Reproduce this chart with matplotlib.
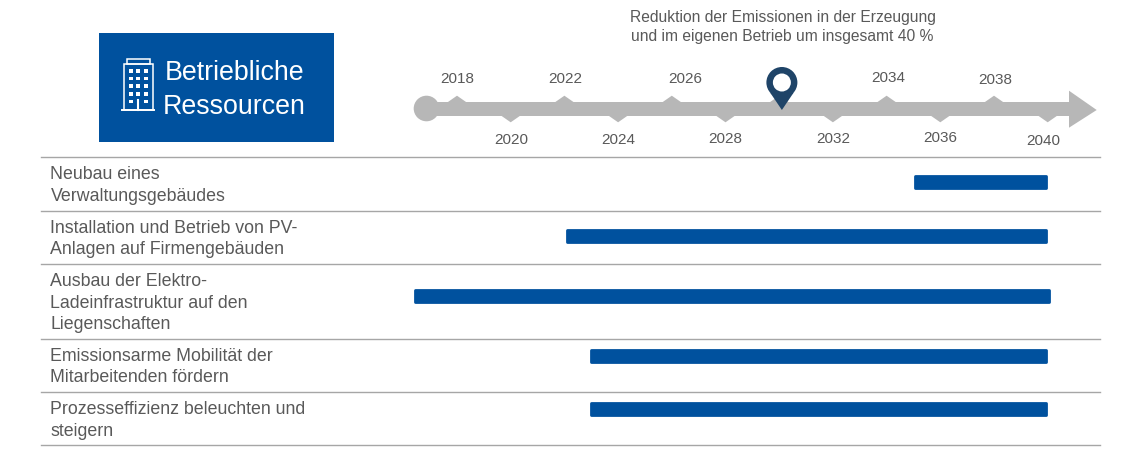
#!/usr/bin/env python3
"""Timeline of operational resource measures up to 2040."""

import matplotlib

matplotlib.use("Agg")

import matplotlib.pyplot as plt
from matplotlib.patches import Circle, Polygon, Rectangle

plt.rcParams["font.family"] = ["Liberation Sans", "DejaVu Sans"]

WIDTH, HEIGHT = 1140, 454
BLUE = "#00519e"
GREY = "#b7b7b7"
TEXT = "#595959"
PIN = "#1f4468"

TOP_YEARS = [2018, 2022, 2026, 2030, 2034, 2038]
BOTTOM_YEARS = [2020, 2024, 2028, 2032, 2036, 2040]
# the labels sit slightly off their ticks in the original (px)
TOP_LABELS = {2018: (0, 79), 2022: (1, 79), 2026: (13, 79), 2034: (2, 78.5), 2038: (1, 79.5)}
BOTTOM_LABELS = {2020: (1, 139.5), 2024: (0, 139.5), 2028: (0, 139), 2032: (0, 139), 2036: (0, 138), 2040: (-4, 141)}
PIN_YEAR = 2030.1

MEASURES = [
    "Neubau eines\nVerwaltungsgebäudes",
    "Installation und Betrieb von PV-\nAnlagen auf Firmengebäuden",
    "Ausbau der Elektro-\nLadeinfrastruktur auf den\nLiegenschaften",
    "Emissionsarme Mobilität der\nMitarbeitenden fördern",
    "Prozesseffizienz beleuchten und\nsteigern",
]
BAR_START = [2035.07, 2022.1, 2016.45, 2023.0, 2023.0]
BAR_END = [2039.95, 2039.95, 2040.05, 2039.95, 2039.95]

ROW_Y = [181.5, 236.3, 296, 355.5, 409.2]
TEXT_Y = [185.5, 239, 303, 367, 420.5]
RULES_Y = [157.3, 210.7, 264, 338.7, 392, 445.3]

PX_2018 = 457.0
PX_PER_YEAR = 26.85

fig = plt.figure(figsize=(WIDTH / 100, HEIGHT / 100), dpi=100)

# pixel axes for layout, twin axes in years for everything on the time scale
ax = fig.add_axes([0, 0, 1, 1])
ax.set_xlim(0, WIDTH)
ax.set_ylim(HEIGHT, 0)
ax.axis("off")

ax_years = ax.twiny()
ax_years.set_xlim(2018 - PX_2018 / PX_PER_YEAR, 2018 + (WIDTH - PX_2018) / PX_PER_YEAR)
ax_years.set_ylim(HEIGHT, 0)
ax_years.axis("off")

# header box
ax.add_patch(Rectangle((99, 32.5), 234.5, 109, facecolor=BLUE, edgecolor="none"))
ax.text(234.5, 73.5, "Betriebliche", color="white", fontsize=19.3, ha="center", va="center")
ax.text(234.5, 107, "Ressourcen", color="white", fontsize=19.3, ha="center", va="center")

# building icon
ax.add_patch(Rectangle((123.5, 63.5), 29, 46, fill=False, edgecolor="white", linewidth=1.1))
ax.add_patch(Rectangle((126.7, 58.5), 23.3, 5, fill=False, edgecolor="white", linewidth=1.1))
ax.plot([122, 153.5], [110, 110], color="white", linewidth=1.4)
for wx in (130.7, 138, 146):
    for wy in (71, 78.5, 86, 94, 101.5):
        if wx == 138 and wy == 101.5:
            continue
        ax.add_patch(Rectangle((wx - 1.9, wy - 1.9), 3.8, 3.8, facecolor="white", edgecolor="none"))
ax.plot([138, 138], [100, 110], color="white", linewidth=1.5)

# arrow timeline
ax.add_patch(Rectangle((426, 102.3), 645, 13.4, facecolor=GREY, edgecolor="none"))
ax.add_patch(Circle((426.5, 108.5), 12.8, facecolor=GREY, edgecolor="none"))
ax.add_patch(Polygon([(1069, 90.7), (1096.7, 110), (1069, 127.7)], facecolor=GREY, edgecolor="none"))

tick_half = 10.5 / PX_PER_YEAR
for year in TOP_YEARS:
    ax_years.add_patch(Polygon([(year - tick_half, 103), (year, 95.7), (year + tick_half, 103)],
                               facecolor=GREY, edgecolor="none"))
for year in BOTTOM_YEARS:
    ax_years.add_patch(Polygon([(year - tick_half, 115), (year, 122.3), (year + tick_half, 115)],
                               facecolor=GREY, edgecolor="none"))
for labels in (TOP_LABELS, BOTTOM_LABELS):
    for year, (shift, y) in labels.items():
        ax_years.text(year + shift / PX_PER_YEAR, y, str(year), color=TEXT, fontsize=11, ha="center", va="center")

# caption
ax.text(782.5, 27, "Reduktion der Emissionen in der Erzeugung\nund im eigenen Betrieb um insgesamt 40 %",
        color=TEXT, fontsize=11.25, ha="center", va="center", linespacing=1.3)

# location pin
pin_half = 11.5 / PX_PER_YEAR
ax_years.add_patch(Polygon([(PIN_YEAR - pin_half, 93), (PIN_YEAR, 110), (PIN_YEAR + pin_half, 93)],
                           facecolor=PIN, edgecolor="none", zorder=4))
pin_px = PX_2018 + (PIN_YEAR - 2018) * PX_PER_YEAR
ax_over = fig.add_axes([0, 0, 1, 1], sharex=ax, sharey=ax)
ax_over.axis("off")
ax_over.add_patch(Circle((pin_px, 82.5), 15.5, facecolor=PIN, edgecolor="none"))
ax_over.add_patch(Circle((pin_px, 82.5), 9, facecolor="white", edgecolor="none"))

# rows
for y in RULES_Y:
    ax.plot([41, 1100], [y, y], color="#a6a6a6", linewidth=1.0)
for label, y in zip(MEASURES, TEXT_Y):
    ax.text(50.5, y, label, color=TEXT, fontsize=12.8, ha="left", va="center", linespacing=1.37)

ax_years.barh(ROW_Y, [e - s for s, e in zip(BAR_START, BAR_END)], left=BAR_START, height=12,
              color=BLUE, edgecolor=BLUE, linewidth=2, joinstyle="round")

fig.savefig("out.png", dpi=100)
